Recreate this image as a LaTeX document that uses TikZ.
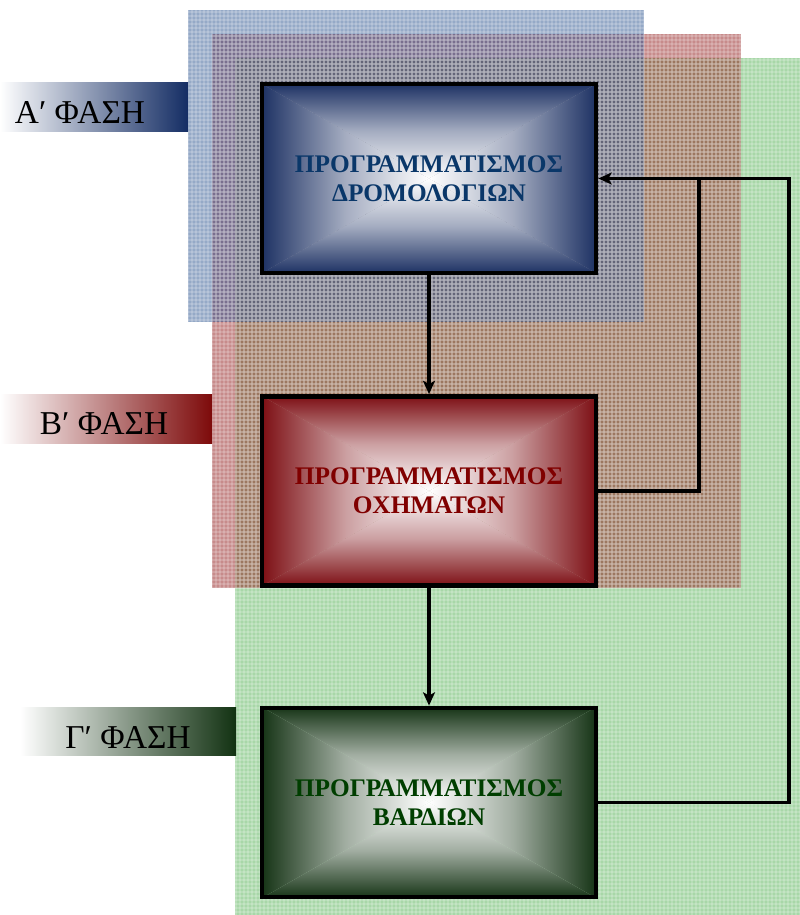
\documentclass[tikz,border=0pt]{standalone}
\usepackage{fontspec}
\setmainfont{Liberation Serif}
\usetikzlibrary{arrows.meta,patterns.meta}
\definecolor{navyE}{RGB}{30,50,100}
\definecolor{redE}{RGB}{125,15,20}
\definecolor{greenE}{RGB}{22,52,22}
\definecolor{navyT}{RGB}{10,55,105}
\definecolor{redT}{RGB}{128,0,0}
\definecolor{greenT}{RGB}{0,62,0}
\definecolor{bgBlue}{RGB}{45,85,145}
\definecolor{bgRed}{RGB}{145,25,25}
\definecolor{bgGreen}{RGB}{50,160,50}
\definecolor{barNavy}{RGB}{20,45,100}
\definecolor{barRed}{RGB}{125,10,10}
\definecolor{barGreen}{RGB}{18,50,18}
\newcommand\pyrbox[5]{%
  \shade[top color=#5, bottom color=white, middle color=#5!40!white] (#1,#2) -- (#3,#2) -- ({(#1+#3)/2},{(#2+#4)/2}) -- cycle;
  \shade[top color=white, bottom color=#5, middle color=#5!40!white] (#1,#4) -- (#3,#4) -- ({(#1+#3)/2},{(#2+#4)/2}) -- cycle;
  \shade[left color=#5, right color=white, middle color=#5!40!white] (#1,#2) -- (#1,#4) -- ({(#1+#3)/2},{(#2+#4)/2}) -- cycle;
  \shade[left color=white, right color=#5, middle color=#5!40!white] (#3,#2) -- (#3,#4) -- ({(#1+#3)/2},{(#2+#4)/2}) -- cycle;
}
\begin{document}
\begin{tikzpicture}[x=0.75pt,y=-0.75pt,
  conn/.style={draw=black, line width=2.9pt},
  arr/.style={-{Stealth[length=10pt,width=9pt,inset=2.5pt]}},
  box/.style={draw=black, line width=3.6pt, minimum width=250.5pt, minimum height=141.75pt,
              inner sep=0pt, align=center, font=\bfseries\fontsize{19}{22}\selectfont},
  phase/.style={font=\fontsize{25}{28}\selectfont, inner sep=0pt, anchor=base},
  texture/.style={pattern={Hatch[angle=0, distance=3pt, line width=0.4pt]}, pattern color=white}]
\useasboundingbox (0,0) rectangle (800,915);
\fill[white] (0,0) rectangle (800,915);
% background layers
\fill[bgGreen, fill opacity=0.42] (235,58) rectangle (800,915);
\fill[bgRed, fill opacity=0.5] (212,34) rectangle (741,588);
\fill[bgBlue, fill opacity=0.5] (188,10) rectangle (644,322);
\begin{scope}[transparency group, opacity=0.5]
  \fill[texture] (235,58) rectangle (800,915);
  \fill[texture] (212,34) rectangle (741,588);
  \fill[texture] (188,10) rectangle (644,322);
\end{scope}
% phase bars
\shade[left color=white, right color=barNavy] (0,82) rectangle (188,131);
\shade[left color=white, right color=barRed] (0,394) rectangle (212,443);
\shade[left color=white, right color=barGreen] (20,707) rectangle (236,755);
\node[phase] (pa) at (80,123) {Α′ ΦΑΣΗ};
\node[phase] (pb) at (104,434) {Β′ ΦΑΣΗ};
\node[phase] (pc) at (128,748) {Γ′ ΦΑΣΗ};
% boxes
\pyrbox{262}{84}{596}{273}{navyE}
\pyrbox{262}{396}{596}{586}{redE}
\pyrbox{262}{707}{596}{898}{greenE}
\node[box, text=navyT] (b1) at (429,178.5) {ΠΡΟΓΡΑΜΜΑΤΙΣΜΟΣ\\ΔΡΟΜΟΛΟΓΙΩΝ};
\node[box, text=redT] (b2) at (429,491) {ΠΡΟΓΡΑΜΜΑΤΙΣΜΟΣ\\ΟΧΗΜΑΤΩΝ};
\node[box, text=greenT] (b3) at (429,802.5) {ΠΡΟΓΡΑΜΜΑΤΙΣΜΟΣ\\ΒΑΡΔΙΩΝ};
% connectors
\coordinate (j) at (699,178.5);
\coordinate (k) at (789,178.5);
\draw[conn, arr] (b1.south) -- (b2.north);
\draw[conn, arr] (b2.south) -- (b3.north);
\draw[conn] (b2.east) -| (j);
\draw[conn, arr] (b3.east) -| (k) -- (b1.east);
\end{tikzpicture}
\end{document}
